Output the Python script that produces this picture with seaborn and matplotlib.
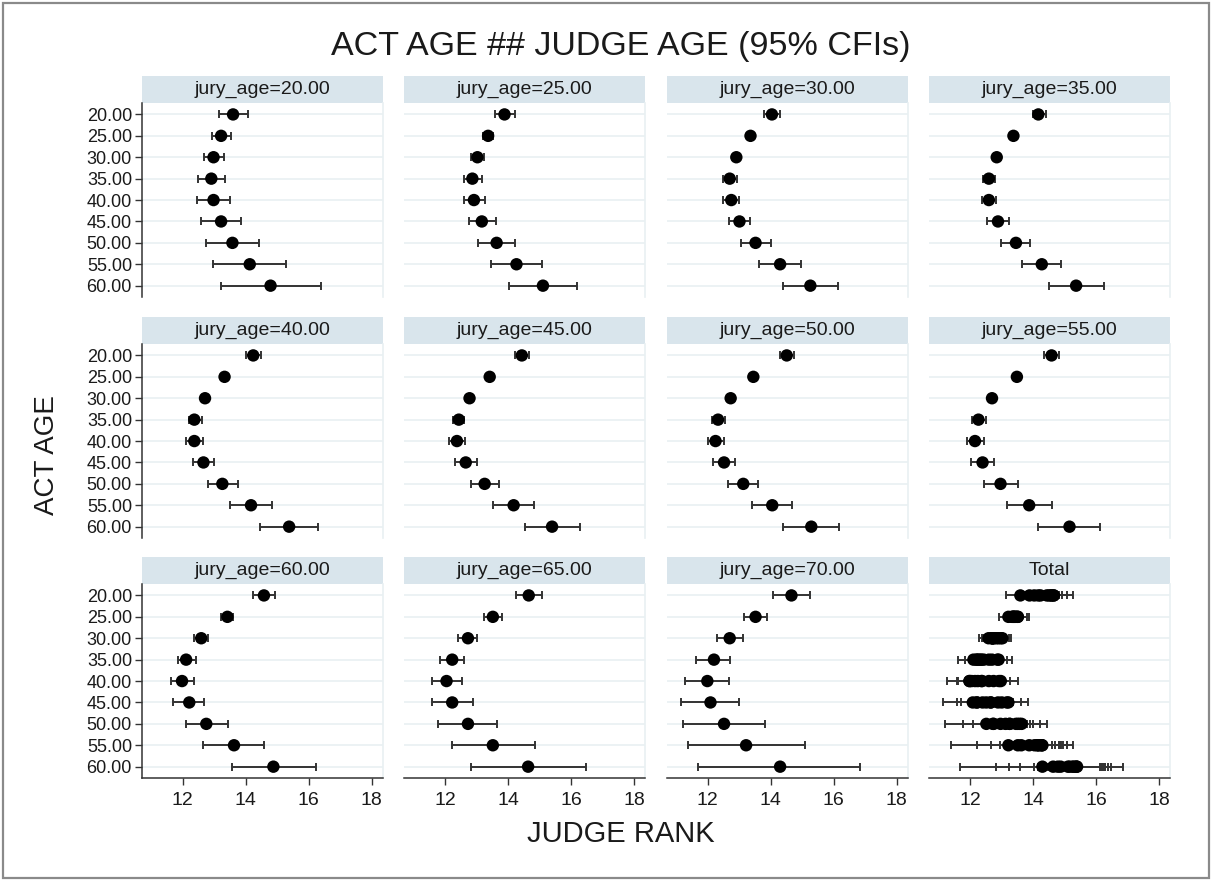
import numpy as np
import pandas as pd
import matplotlib
matplotlib.use("Agg")
import matplotlib.pyplot as plt
import seaborn as sns
from matplotlib.patches import Rectangle

# ---------------- data ----------------
act_ages = [20, 25, 30, 35, 40, 45, 50, 55, 60]
jury_ages = [20, 25, 30, 35, 40, 45, 50, 55, 60, 65, 70]
x_ticks = [12, 14, 16, 18]

est_20 = [13.60, 13.22, 12.98, 12.91, 12.98, 13.22, 13.58, 14.13, 14.79]
lo_20 = [13.14, 12.93, 12.67, 12.49, 12.46, 12.59, 12.75, 12.96, 13.23]
hi_20 = [14.08, 13.53, 13.31, 13.33, 13.51, 13.85, 14.43, 15.27, 16.39]

est_25 = [13.89, 13.37, 13.03, 12.87, 12.92, 13.17, 13.64, 14.27, 15.11]
lo_25 = [13.58, 13.20, 12.82, 12.59, 12.59, 12.75, 13.04, 13.47, 14.02]
hi_25 = [14.22, 13.54, 13.23, 13.18, 13.28, 13.63, 14.21, 15.08, 16.19]

est_30 = [14.04, 13.36, 12.91, 12.70, 12.75, 13.01, 13.52, 14.30, 15.26]
lo_30 = [13.80, 13.25, 12.82, 12.49, 12.49, 12.67, 13.07, 13.62, 14.40]
hi_30 = [14.30, 13.47, 13.00, 12.93, 13.01, 13.36, 14.00, 14.95, 16.15]

est_35 = [14.17, 13.38, 12.85, 12.60, 12.60, 12.89, 13.46, 14.28, 15.37]
lo_35 = [13.99, 13.30, 12.78, 12.42, 12.37, 12.55, 12.99, 13.65, 14.51]
hi_35 = [14.41, 13.47, 12.92, 12.79, 12.84, 13.24, 13.91, 14.89, 16.24]

est_40 = [14.24, 13.33, 12.71, 12.37, 12.37, 12.66, 13.26, 14.17, 15.38]
lo_40 = [14.00, 13.25, 12.62, 12.19, 12.11, 12.32, 12.80, 13.51, 14.45]
hi_40 = [14.49, 13.42, 12.80, 12.62, 12.66, 13.01, 13.76, 14.83, 16.29]

est_45 = [14.44, 13.42, 12.78, 12.44, 12.38, 12.66, 13.26, 14.18, 15.40]
lo_45 = [14.23, 13.33, 12.70, 12.26, 12.12, 12.31, 12.82, 13.52, 14.54]
hi_45 = [14.66, 13.50, 12.86, 12.61, 12.64, 13.01, 13.73, 14.82, 16.30]

est_50 = [14.51, 13.45, 12.73, 12.33, 12.25, 12.52, 13.13, 14.05, 15.29]
lo_50 = [14.30, 13.37, 12.65, 12.13, 12.00, 12.18, 12.65, 13.40, 14.40]
hi_50 = [14.74, 13.53, 12.82, 12.54, 12.51, 12.88, 13.59, 14.69, 16.18]

est_55 = [14.59, 13.49, 12.70, 12.27, 12.16, 12.40, 12.97, 13.88, 15.16]
lo_55 = [14.36, 13.40, 12.60, 12.07, 11.90, 12.02, 12.45, 13.17, 14.17]
hi_55 = [14.83, 13.58, 12.80, 12.50, 12.45, 12.76, 13.52, 14.62, 16.14]

est_60 = [14.58, 13.42, 12.59, 12.11, 11.98, 12.21, 12.75, 13.63, 14.88]
lo_60 = [14.24, 13.23, 12.37, 11.84, 11.63, 11.70, 12.11, 12.66, 13.58]
hi_60 = [14.93, 13.60, 12.82, 12.41, 12.35, 12.69, 13.44, 14.59, 16.22]

est_65 = [14.66, 13.52, 12.73, 12.23, 12.05, 12.23, 12.73, 13.52, 14.64]
lo_65 = [14.25, 13.24, 12.41, 11.83, 11.58, 11.58, 11.78, 12.23, 12.83]
hi_65 = [15.08, 13.80, 13.03, 12.59, 12.54, 12.88, 13.66, 14.85, 16.48]

est_70 = [14.66, 13.52, 12.70, 12.20, 11.99, 12.09, 12.52, 13.22, 14.30]
lo_70 = [14.09, 13.15, 12.30, 11.63, 11.27, 11.16, 11.21, 11.39, 11.69]
hi_70 = [15.26, 13.88, 13.12, 12.72, 12.67, 12.99, 13.82, 15.08, 16.85]

series = {
    20: (est_20, lo_20, hi_20), 25: (est_25, lo_25, hi_25),
    30: (est_30, lo_30, hi_30), 35: (est_35, lo_35, hi_35),
    40: (est_40, lo_40, hi_40), 45: (est_45, lo_45, hi_45),
    50: (est_50, lo_50, hi_50), 55: (est_55, lo_55, hi_55),
    60: (est_60, lo_60, hi_60), 65: (est_65, lo_65, hi_65),
    70: (est_70, lo_70, hi_70),
}

rows = []
for j in jury_ages:
    e, l, h = series[j]
    for a, ee, ll, hh in zip(act_ages, e, l, h):
        rows.append({"jury": j, "act": a, "est": ee, "lo": ll, "hi": hh})
df = pd.DataFrame(rows)

# ---------------- style ----------------
sns.set_theme(style="white")
plt.rcParams["font.family"] = ["Liberation Sans", "DejaVu Sans"]

W, H = 1212, 881
fig = plt.figure(figsize=(W / 100, H / 100), dpi=100)
fig.patch.set_facecolor("white")

# outer frame
fig.add_artist(Rectangle((3 / W, 3 / H), 1 - 6 / W, 1 - 6 / H, transform=fig.transFigure,
                         fill=False, edgecolor="#8a8a8a", linewidth=1.6))

col_left = [141.7, 404.0, 666.7, 929.0]
panel_w = 241.0
row_top = [103.3, 344.3, 584.3]
panel_h = 193.5
strip_h = 27.0

strip_color = "#d9e5ec"
grid_color = "#e9f0f2"
err_color = "#333333"

panels = [(j, f"jury_age={j:.2f}") for j in jury_ages] + [(None, "Total")]

for idx, (j, label) in enumerate(panels):
    r, c = divmod(idx, 4)
    left = col_left[c] / W
    bottom = 1 - (row_top[r] + panel_h) / H
    ax = fig.add_axes([left, bottom, panel_w / W, panel_h / H])
    sub = df if j is None else df[df["jury"] == j]

    for a in act_ages:
        ax.axhline(a, color=grid_color, lw=1.2, zorder=0)

    groups = [sub] if j is not None else [g for _, g in sub.groupby("jury")]
    for g in groups:
        ax.errorbar(g["est"], g["act"],
                    xerr=[g["est"] - g["lo"], g["hi"] - g["est"]],
                    fmt="none", ecolor=err_color, elinewidth=1.4,
                    capsize=2.8, capthick=1.4, zorder=2)
    sns.scatterplot(data=sub, x="est", y="act", ax=ax, color="black",
                    s=80, edgecolor="none", linewidth=0, zorder=3, legend=False)

    ax.set_xlim(10.7, 18.35)
    ax.set_ylim(62.6, 17.4)
    ax.set_xticks(x_ticks)
    ax.set_yticks(act_ages)
    ax.set_xlabel("")
    ax.set_ylabel("")

    for s in ["top", "left", "bottom", "right"]:
        ax.spines[s].set_visible(False)
    ax.spines["right"].set_visible(True)
    ax.spines["right"].set_color(grid_color)
    ax.spines["right"].set_linewidth(1.2)

    if c == 0:
        ax.spines["left"].set_visible(True)
        ax.spines["left"].set_color("#333333")
        ax.spines["left"].set_linewidth(1.1)
        ax.set_yticklabels([f"{a:.2f}" for a in act_ages])
        ax.tick_params(axis="y", left=True, length=5, width=1, color="#333333",
                       labelsize=13, pad=2, labelcolor="#1a1a1a")
    else:
        ax.tick_params(axis="y", left=False, labelleft=False)

    if r == 2:
        ax.spines["bottom"].set_visible(True)
        ax.spines["bottom"].set_color("#333333")
        ax.spines["bottom"].set_linewidth(1.1)
        ax.set_xticklabels([str(t) for t in x_ticks])
        ax.tick_params(axis="x", bottom=True, length=5, width=1, color="#333333",
                       labelsize=14, pad=5, labelcolor="#1a1a1a")
    else:
        ax.tick_params(axis="x", bottom=False, labelbottom=False)

    # strip header
    sh = strip_h / panel_h
    ax.add_patch(Rectangle((0, 1), 1, sh, transform=ax.transAxes, clip_on=False,
                           facecolor=strip_color, edgecolor="none", zorder=1))
    ax.text(0.5, 1 + sh / 2, label, transform=ax.transAxes, ha="center", va="center",
            fontsize=14, color="#1a1a1a")

fig.text(621 / W, 1 - 47 / H, "ACT AGE ## JUDGE AGE (95% CFIs)", ha="center", va="center",
         fontsize=24.5, color="#1a1a1a")
fig.text(621 / W, 1 - 834 / H, "JUDGE RANK", ha="center", va="center",
         fontsize=21, color="#1a1a1a")
fig.text(47 / W, 1 - 455 / H, "ACT AGE", ha="center", va="center", rotation=90,
         fontsize=20, color="#1a1a1a")

fig.savefig("out.png", dpi=100, facecolor="white")
